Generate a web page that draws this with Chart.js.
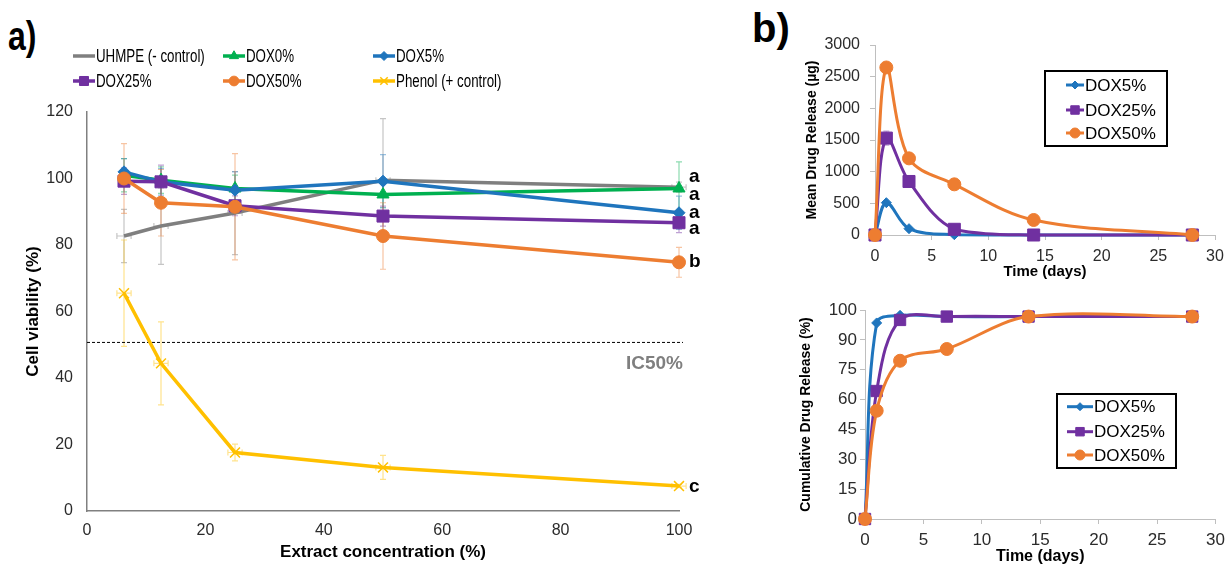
<!DOCTYPE html>
<html>
<head>
<meta charset="utf-8">
<script src="https://cdn.jsdelivr.net/npm/chart.js@4.4.1/dist/chart.umd.min.js"></script>
<style>
  body { margin: 0; background: #fff; width: 1231px; height: 566px; overflow: hidden; position: relative; font-family: "Liberation Sans", Arial, sans-serif; }
  .box { position: absolute; }
  .tag { position: absolute; font-weight: bold; font-size: 40px; color: #000; line-height: 1; transform-origin: left top; }
</style>
</head>
<body>
<div class="tag" style="left:8px;top:16px;transform:scaleX(0.8)">a)</div>
<div class="tag" style="left:752px;top:8px">b)</div>
<div class="box" style="left:0;top:0;width:720px;height:566px"><canvas id="viab"></canvas></div>
<div class="box" style="left:760px;top:0;width:471px;height:285px"><canvas id="rel"></canvas></div>
<div class="box" style="left:760px;top:290px;width:471px;height:276px"><canvas id="cum"></canvas></div>

<script>
// ---- panel a : cell viability vs extract concentration
const conc = [6.25, 12.5, 25, 50, 100];
const uhmpe = [82.7, 85.7, 89.6, 99.5, 97.4];
const dox0 = [101, 99.5, 97, 95.2, 97];
const dox5 = [102, 99, 96.5, 99.2, 89.7];
const dox25 = [99.2, 99, 91.8, 88.7, 86.7];
const dox50 = [100, 92.7, 91.5, 82.7, 74.8];
const phenol = [65.5, 44.4, 17.6, 13.1, 7.5];

const uhmpeErr = [8, 11.5, 12.5, 18.5, 1.5];
const dox0Err = [5, 4, 4, 4, 8];
const dox5Err = [4, 4, 5.5, 8, 5];
const dox25Err = [4, 5, 3, 3, 3];
const dox50Err = [10.5, 10, 16, 10, 4.5];
const phenolErr = [16, 12.5, 2.5, 3.6, 0.5];
const concErr = [1.2, 1.2, 1.2, 1.2, 1.2];

const ic50 = 50.7;
const sigLetters = ['a', 'a', 'a', 'a', 'b', 'c'];
const sigAt = [100.5, 95, 89.6, 84.8, 74.9, 7.2];

// ---- panel b : release over time
const days = [0, 1, 3, 7, 14, 28];
const rel5 = [0, 510, 100, 5, 0, 0];
const rel25 = [0, 1530, 845, 90, 0, 0];
const rel50 = [0, 2645, 1210, 800, 237, 0];
const rel25Err = [0, 110, 0, 0, 0, 0];

const cum5 = [0, 98.5, 102.3, 101.7, 101.7, 101.7];
const cum25 = [0, 64.3, 100, 101.7, 101.7, 101.7];
const cum50 = [0, 54.4, 79.5, 85.4, 101.7, 101.7];
const cumTicks = [0, 15, 30, 45, 60, 75, 90, 100];

const FONT = '"Liberation Sans", Arial, sans-serif';
Chart.defaults.font.family = FONT;
Chart.defaults.color = '#2b2b2b';
Chart.defaults.animation = false;
Chart.defaults.plugins.legend.display = false;
Chart.defaults.plugins.tooltip.enabled = false;

const BLUE = '#1f75bd', PURPLE = '#7030a0', ORANGE = '#ed7d31', GREEN = '#00b050', GRAY = '#7f7f7f', YELLOW = '#ffc000';

function pts(xs, ys) {
  return xs.map((x, i) => ({ x: x, y: ys[i] }));
}

function fade(hex, a) {
  const n = parseInt(hex.slice(1), 16);
  return 'rgba(' + (n >> 16) + ',' + ((n >> 8) & 255) + ',' + (n & 255) + ',' + a + ')';
}

// error bars, drawn under the lines
const errorBars = {
  id: 'errorBars',
  beforeDatasetsDraw(chart) {
    const ctx = chart.ctx;
    const xs = chart.scales.x, ys = chart.scales.y;
    chart.data.datasets.forEach(ds => {
      ctx.save();
      ctx.strokeStyle = fade(ds.borderColor, 0.45);
      ctx.lineWidth = 1.2;
      ds.data.forEach((p, i) => {
        const px = xs.getPixelForValue(p.x), py = ys.getPixelForValue(p.y);
        ctx.beginPath();
        if (ds.yErr && ds.yErr[i]) {
          const t = ys.getPixelForValue(p.y + ds.yErr[i]);
          const b = ys.getPixelForValue(p.y - ds.yErr[i]);
          ctx.moveTo(px, t); ctx.lineTo(px, b);
          ctx.moveTo(px - 3, t); ctx.lineTo(px + 3, t);
          ctx.moveTo(px - 3, b); ctx.lineTo(px + 3, b);
        }
        if (ds.xErr && ds.xErr[i]) {
          const l = xs.getPixelForValue(p.x - ds.xErr[i]);
          const r = xs.getPixelForValue(p.x + ds.xErr[i]);
          ctx.moveTo(l, py); ctx.lineTo(r, py);
          ctx.moveTo(l, py - 3); ctx.lineTo(l, py + 3);
          ctx.moveTo(r, py - 3); ctx.lineTo(r, py + 3);
        }
        ctx.stroke();
      });
      ctx.restore();
    });
  }
};

function sample(ctx, ds, x, y, w, r) {
  ctx.save();
  ctx.strokeStyle = ds.borderColor;
  ctx.fillStyle = ds.borderColor;
  ctx.lineWidth = ds.borderWidth;
  ctx.beginPath();
  ctx.moveTo(x, y); ctx.lineTo(x + w, y);
  ctx.stroke();
  if (ds.pointStyle) {
    ctx.lineWidth = ds.pointStyle === 'crossRot' ? 1.5 : 1;
    Chart.helpers.drawPoint(ctx, { pointStyle: ds.pointStyle, radius: r, rotation: 0, borderWidth: ctx.lineWidth }, x + w / 2, y);
  }
  ctx.restore();
}

// panel a legend, above the plot, 3 columns x 2 rows
const legendA = {
  id: 'legendA',
  afterDraw(chart) {
    const ctx = chart.ctx;
    const cols = [73, 223, 373], rows = [56, 81];
    chart.data.datasets.forEach((ds, i) => {
      const x = cols[i % 3], y = rows[Math.floor(i / 3)];
      sample(ctx, ds, x, y, 22, ds.pointRadius * 0.75);
      ctx.save();
      ctx.translate(x + 23, y);
      ctx.scale(0.74, 1);
      ctx.font = '18px ' + FONT;
      ctx.fillStyle = '#000';
      ctx.textBaseline = 'middle';
      ctx.fillText(ds.label, 0, 1);
      ctx.restore();
    });
  }
};

// IC50 line, label and significance letters
const marksA = {
  id: 'marksA',
  beforeDatasetsDraw(chart) {
    const ctx = chart.ctx, xs = chart.scales.x, ys = chart.scales.y;
    const y = ys.getPixelForValue(ic50);
    ctx.save();
    ctx.strokeStyle = '#000';
    ctx.lineWidth = 1;
    ctx.setLineDash([3, 2]);
    ctx.beginPath();
    ctx.moveTo(chart.chartArea.left, y);
    ctx.lineTo(xs.getPixelForValue(100) + 4, y);
    ctx.stroke();
    ctx.restore();
  },
  afterDatasetsDraw(chart) {
    const ctx = chart.ctx, xs = chart.scales.x, ys = chart.scales.y;
    ctx.save();
    ctx.font = 'bold 19px ' + FONT;
    ctx.fillStyle = '#7f7f7f';
    ctx.textAlign = 'right';
    ctx.textBaseline = 'middle';
    ctx.fillText('IC50%', xs.getPixelForValue(100) + 4, ys.getPixelForValue(ic50) + 21);
    ctx.fillStyle = '#000';
    ctx.textAlign = 'left';
    ctx.font = 'bold 19px ' + FONT;
    sigLetters.forEach((t, i) => {
      ctx.fillText(t, xs.getPixelForValue(100) + 10, ys.getPixelForValue(sigAt[i]));
    });
    ctx.restore();
  }
};

// boxed legend inside plot area for panel b
function boxLegend(id, box, rowsY, lineX, lineW, r) {
  return {
    id: id,
    afterDraw(chart) {
      const ctx = chart.ctx;
      ctx.save();
      ctx.fillStyle = '#fff';
      ctx.fillRect(box[0], box[1], box[2], box[3]);
      ctx.strokeStyle = '#000';
      ctx.lineWidth = 2;
      ctx.strokeRect(box[0], box[1], box[2], box[3]);
      ctx.restore();
      chart.data.datasets.forEach((ds, i) => {
        sample(ctx, ds, lineX, rowsY[i], lineW, r[i]);
        ctx.save();
        ctx.font = '17px ' + FONT;
        ctx.fillStyle = '#000';
        ctx.textBaseline = 'middle';
        ctx.fillText(ds.label, lineX + lineW + 1, rowsY[i] + 1);
        ctx.restore();
      });
    }
  };
}

function line(label, xs, ys, color, style, radius, width, extra) {
  return Object.assign({
    label: label,
    data: pts(xs, ys),
    borderColor: color,
    backgroundColor: color,
    borderWidth: width,
    pointStyle: style,
    pointRadius: radius,
    pointBackgroundColor: color,
    pointBorderColor: color,
    pointBorderWidth: style === 'crossRot' ? 1.5 : 1,
    clip: false
  }, extra || {});
}

const setA = [
  line('UHMPE (- control)', conc, uhmpe, GRAY, false, 0, 3.5, { yErr: uhmpeErr, xErr: concErr }),
  line('DOX0%', conc, dox0, GREEN, 'triangle', 7, 3.5, { yErr: dox0Err }),
  line('DOX5%', conc, dox5, BLUE, 'rectRot', 6, 3.5, { yErr: dox5Err }),
  line('DOX25%', conc, dox25, PURPLE, 'rect', 8.5, 3.5, { yErr: dox25Err }),
  line('DOX50%', conc, dox50, ORANGE, 'circle', 6.5, 3.5, { yErr: dox50Err }),
  line('Phenol (+ control)', conc, phenol, YELLOW, 'crossRot', 7, 3.5, { yErr: phenolErr, xErr: concErr })
];
setA.forEach((ds, i) => { ds.order = setA.length - i; });

new Chart(document.getElementById('viab'), {
  type: 'line',
  data: { datasets: setA },
  options: {
    responsive: true,
    maintainAspectRatio: false,
    layout: { padding: { top: 112, right: 41, bottom: 0, left: 0 } },
    scales: {
      x: {
        type: 'linear', min: 0, max: 100,
        ticks: { stepSize: 20, padding: 10, font: { size: 16 } },
        grid: { display: false, drawTicks: false },
        border: { display: true, color: '#808080', width: 1.5 },
        title: { display: true, text: 'Extract concentration (%)', color: '#000', font: { size: 17, weight: 'bold' }, padding: { top: 0, bottom: 3 } },
        afterFit(s) { s.height = 55; }
      },
      y: {
        min: 0, max: 120,
        ticks: { stepSize: 20, padding: 14, font: { size: 16 } },
        grid: { display: false, drawTicks: false },
        border: { display: true, color: '#808080', width: 1.5 },
        title: { display: true, text: 'Cell viability (%)', color: '#000', font: { size: 17, weight: 'bold' }, padding: { top: 23, bottom: 0 } },
        afterFit(s) { s.width = 87; }
      }
    }
  },
  plugins: [errorBars, marksA, legendA]
});

// ---- panel b top
const setB = [
  line('DOX5%', days, rel5, BLUE, 'rectRot', 5, 3, { tension: 0.35 }),
  line('DOX25%', days, rel25, PURPLE, 'rect', 8.5, 3, { tension: 0.35, yErr: rel25Err }),
  line('DOX50%', days, rel50, ORANGE, 'circle', 6.5, 3, { tension: 0.35 })
];
setB.forEach((ds, i) => { ds.order = setB.length - i; });

const axisB = { display: true, drawOnChartArea: false, drawTicks: true, tickLength: 5, color: '#bfbfbf' };

new Chart(document.getElementById('rel'), {
  type: 'line',
  data: { datasets: setB },
  options: {
    responsive: true,
    maintainAspectRatio: false,
    layout: { padding: { top: 45, right: 16, bottom: 0, left: 44 } },
    scales: {
      x: {
        type: 'linear', min: 0, max: 30,
        ticks: { stepSize: 5, padding: 7, font: { size: 16 } },
        grid: axisB,
        border: { display: true, color: '#bfbfbf', width: 1 },
        title: { display: true, text: 'Time (days)', color: '#000', font: { size: 15, weight: 'bold' }, padding: { top: 0, bottom: 4 } },
        afterFit(s) { s.height = 50; }
      },
      y: {
        min: 0, max: 3000,
        ticks: { stepSize: 500, padding: 10, font: { size: 16 }, callback: v => String(v) },
        grid: axisB,
        border: { display: true, color: '#bfbfbf', width: 1 },
        title: { display: true, text: 'Mean Drug Release (µg)', color: '#000', font: { size: 14, weight: 'bold' }, padding: { top: 0, bottom: 0 } },
        afterFit(s) { s.width = 71; }
      }
    }
  },
  plugins: [errorBars, boxLegend('legB1', [285, 71, 122, 75], [85, 110, 133], 306, 18, [4, 6, 5])]
});

// ---- panel b bottom
const setC = [
  line('DOX5%', days, cum5, BLUE, 'rectRot', 5, 3, { tension: 0.35 }),
  line('DOX25%', days, cum25, PURPLE, 'rect', 8, 3, { tension: 0.35 }),
  line('DOX50%', days, cum50, ORANGE, 'circle', 6.5, 3, { tension: 0.35 })
];
setC.forEach((ds, i) => { ds.order = setC.length - i; });

new Chart(document.getElementById('cum'), {
  type: 'line',
  data: { datasets: setC },
  options: {
    responsive: true,
    maintainAspectRatio: false,
    layout: { padding: { top: 20, right: 12, bottom: 0, left: 38 } },
    scales: {
      x: {
        type: 'linear', min: 0, max: 30,
        ticks: { stepSize: 5, padding: 6, font: { size: 17 } },
        grid: axisB,
        border: { display: true, color: '#bfbfbf', width: 1 },
        title: { display: true, text: 'Time (days)', color: '#000', font: { size: 16, weight: 'bold' }, padding: { top: 0, bottom: 0 } },
        afterFit(s) { s.height = 47; }
      },
      y: {
        min: 0, max: 105,
        // axis in the figure is drawn with even spacing, top label reads 100
        afterBuildTicks(s) { s.ticks = [0, 15, 30, 45, 60, 75, 90, 105].map((v, i) => ({ value: v, label: String(cumTicks[i]) })); },
        ticks: { padding: 3, font: { size: 17 }, callback: (v, i) => String(cumTicks[i]) },
        grid: axisB,
        border: { display: true, color: '#bfbfbf', width: 1 },
        title: { display: true, text: 'Cumulative Drug Release (%)', color: '#000', font: { size: 14, weight: 'bold' }, padding: { top: 0, bottom: 0 } },
        afterFit(s) { s.width = 67; }
      }
    }
  },
  plugins: [boxLegend('legB2', [297, 104, 119, 74], [116.7, 141.7, 165], 307, 26, [4, 6, 5])]
});
</script>
</body>
</html>
